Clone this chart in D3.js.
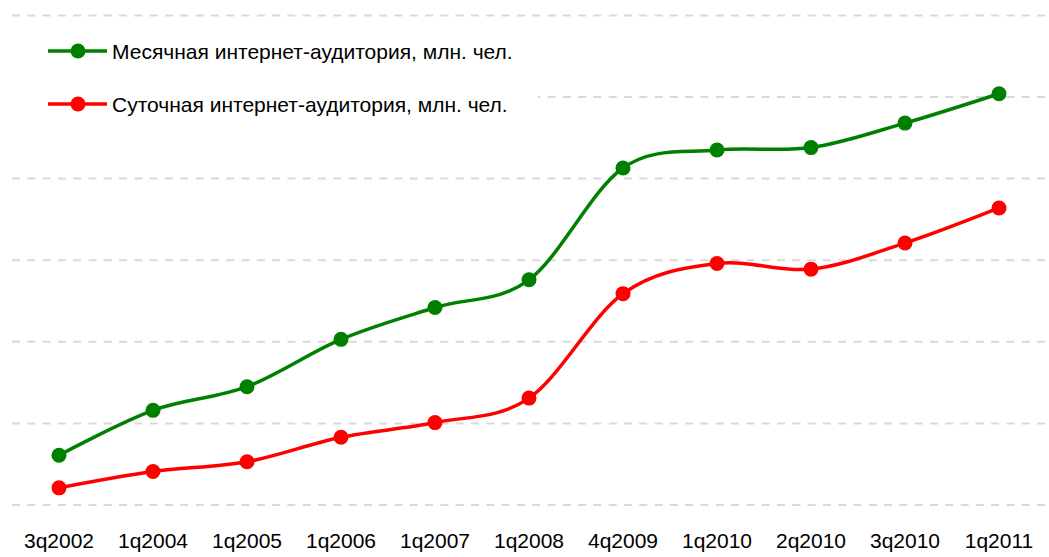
<!DOCTYPE html>
<html>
<head>
<meta charset="utf-8">
<script src="https://cdn.jsdelivr.net/npm/d3@7"></script>
<style>
  body { margin: 0; background: #fff; }
  svg { display: block; font-family: 'Liberation Sans', Arial, sans-serif; }
</style>
</head>
<body>
<div class="container"></div>
<script>
var quarters = ['3q2002', '1q2004', '1q2005', '1q2006', '1q2007', '1q2008',
  '4q2009', '1q2010', '2q2010', '3q2010', '1q2011']

// monthly and daily audience, mln people
var monthly = [6.1, 11.6, 14.5, 20.3, 24.2, 27.6, 41.3, 43.5, 43.8, 46.8, 50.4]
var daily = [2.1, 4.1, 5.3, 8.3, 10.1, 13.1, 25.9, 29.6, 28.9, 32.1, 36.4]

var gridTicks = [0, 10, 20, 30, 40, 50, 60]

var seriesNames = ['Месячная интернет-аудитория, млн. чел.',
  'Суточная интернет-аудитория, млн. чел.']
var seriesColors = ['#008000', '#ff0000']

var width = 1049, height = 557

var x = d3.scaleBand()
  .domain(quarters)
  .range([12, 1046])

var y = d3.scaleLinear()
  .domain([0, 60])
  .range([505, 15.4])

var svg = d3.select('.container')
  .append('svg')
    .attr('width', width)
    .attr('height', height)

// gridlines
svg.append('g')
  .selectAll('line')
  .data(gridTicks)
  .enter()
  .append('line')
    .attr('x1', 12)
    .attr('x2', 1046)
    .attr('y1', function(d) { return y(d) })
    .attr('y2', function(d) { return y(d) })
    .attr('stroke', '#d9d9d9')
    .attr('stroke-width', 2)
    .attr('stroke-dasharray', '8,7.3')

// category labels
var xAxis = svg.append('g')
  .attr('transform', 'translate(0,548)')
  .call(d3.axisBottom(x).tickSize(0).tickPadding(0))

xAxis.select('.domain').remove()
xAxis.selectAll('text')
  .attr('dy', 0)
  .attr('y', 0)
  .attr('fill', '#000')
  .style('font-size', '21px')
  .style('font-family', "'Liberation Sans', Arial, sans-serif")

var line = d3.line()
  .x(function(d, i) { return x(quarters[i]) + x.bandwidth() / 2 })
  .y(function(d) { return y(d) })
  .curve(d3.curveCatmullRom.alpha(0))

var series = [monthly, daily]

series.forEach(function(values, k) {
  var g = svg.append('g')

  g.append('path')
    .datum(values)
    .attr('d', line)
    .attr('fill', 'none')
    .attr('stroke', seriesColors[k])
    .attr('stroke-width', 3.5)
    .attr('stroke-linejoin', 'round')

  g.selectAll('circle')
    .data(values)
    .enter()
    .append('circle')
      .attr('cx', function(d, i) { return x(quarters[i]) + x.bandwidth() / 2 })
      .attr('cy', function(d) { return y(d) })
      .attr('r', 7.5)
      .attr('fill', seriesColors[k])
})

// legend
var legend = svg.append('g')

legend.append('rect')
  .attr('x', 0)
  .attr('y', 22)
  .attr('width', 538)
  .attr('height', 104)
  .attr('fill', '#fff')

var legendItems = legend.selectAll('g')
  .data(seriesNames)
  .enter()
  .append('g')
    .attr('transform', function(d, i) { return 'translate(0,' + [51, 104][i] + ')' })

legendItems.append('line')
  .attr('x1', 48)
  .attr('x2', 107)
  .attr('stroke', function(d, i) { return seriesColors[i] })
  .attr('stroke-width', 3.5)

legendItems.append('circle')
  .attr('cx', 78)
  .attr('r', 7.5)
  .attr('fill', function(d, i) { return seriesColors[i] })

legendItems.append('text')
  .attr('x', 112)
  .attr('y', 7.5)
  .attr('font-size', 21)
  .attr('fill', '#000')
  .text(function(d) { return d })
</script>
</body>
</html>
